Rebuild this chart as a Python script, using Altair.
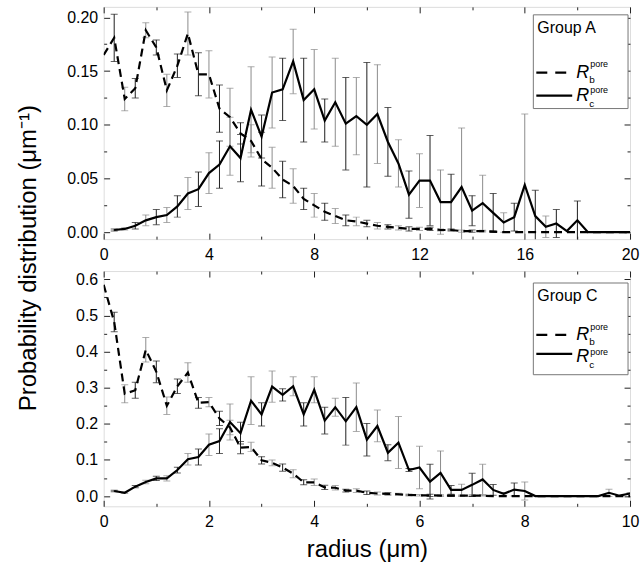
import altair as alt
import pandas as pd

FONT = "Liberation Sans"

# ---------------- Group A (top panel), bin width 0.4 um ----------------
A_r = [round(0.4 * i, 1) for i in range(51)]
A_rb = [0.165, 0.181, 0.124, 0.134, 0.188, 0.172, 0.132, 0.155, 0.185, 0.147,
        0.147, 0.115, 0.107, 0.092, 0.085, 0.068, 0.060, 0.049, 0.043, 0.031,
        0.025, 0.019, 0.015, 0.011, 0.010, 0.008, 0.006, 0.005, 0.004, 0.003,
        0.003, 0.003, 0.002, 0.002, 0.001, 0.001, 0.001, 0.0005,
        0, 0, 0, 0, 0, 0, 0, 0, 0, 0, 0, 0, 0]
A_rb_err = [0, 0.022, 0.011, 0.009, 0.007, 0.007, 0.015, 0.011, 0.020, 0.020,
            0.022, 0.022, 0.027, 0.010, 0.015, 0.025, 0.019, 0.017, 0.016, 0.010,
            0.011, 0.008, 0.007, 0.005, 0.004, 0.003, 0.003, 0.002, 0.002, 0.002,
            0.0015, 0.0015, 0.001, 0.001, 0.001, 0.001, 0.0008, 0.0005,
            0, 0, 0, 0, 0, 0, 0, 0, 0, 0, 0, 0, 0]
A_rc = [None, 0.002, 0.003, 0.006, 0.011, 0.014, 0.016, 0.024, 0.036, 0.040,
        0.055, 0.063, 0.080, 0.069, 0.114, 0.089, 0.130, 0.133, 0.159, 0.123,
        0.133, 0.104, 0.121, 0.101, 0.108, 0.100, 0.110, 0.084, 0.064, 0.035,
        0.048, 0.048, 0.028, 0.028, 0.042, 0.020, 0.027, 0.018, 0.009, 0.014,
        0.044, 0.015, 0.005, 0.008, 0.001, 0.011, 0, 0, 0, 0, 0]
A_rc_err = [None, 0.001, 0.001, 0.003, 0.005, 0.007, 0.007, 0.010, 0.015, 0.016,
            0.019, 0.022, 0.027, 0.022, 0.040, 0.020, 0.033, 0.029, 0.030, 0.039,
            0.037, 0.020, 0.041, 0.043, 0.036, 0.058, 0.046, 0.032, 0.022, 0.022,
            0.025, 0.042, 0.030, 0.026, 0.055, 0.014, 0.026, 0.018, 0.009, 0.013,
            0.066, 0.024, 0.010, 0.013, 0, 0.018, 0, 0, 0, 0, 0]

# ---------------- Group C (bottom panel), bin width 0.2 um ----------------
C_r = [round(0.2 * i, 1) for i in range(51)]
C_rb = [0.585, 0.482, 0.283, 0.293, 0.405, 0.344, 0.250, 0.304, 0.342, 0.258,
        0.260, 0.215, 0.190, 0.134, 0.136, 0.099, 0.092, 0.079, 0.062, 0.038,
        0.038, 0.024, 0.023, 0.015, 0.015, 0.009, 0.007, 0.006, 0.005, 0.003,
        0.002, 0.002, 0.001, 0.001, 0.001, 0.001, 0.001,
        0, 0, 0, 0, 0, 0, 0, 0, 0, 0, 0, 0, 0, 0]
C_rb_err = [0, 0.027, 0.025, 0.022, 0.034, 0.030, 0.024, 0.020, 0.027, 0.015,
            0.013, 0.020, 0.020, 0.017, 0.013, 0.010, 0.008, 0.010, 0.011, 0.007,
            0.009, 0.006, 0.006, 0.004, 0.005, 0.005, 0.004, 0.003, 0.003, 0.002,
            0.002, 0.003, 0.002, 0.002, 0.002, 0.002, 0.001,
            0, 0, 0, 0, 0, 0, 0, 0, 0, 0, 0, 0, 0, 0]
C_rc = [None, 0.014, 0.009, 0.026, 0.039, 0.049, 0.049, 0.072, 0.102, 0.108,
        0.142, 0.152, 0.205, 0.174, 0.264, 0.226, 0.303, 0.280, 0.304, 0.226,
        0.294, 0.209, 0.246, 0.207, 0.246, 0.156, 0.194, 0.120, 0.148, 0.072,
        0.079, 0.040, 0.064, 0.017, 0.017, 0.031, 0.046, 0.017, 0.006, 0.018,
        0.014, 0, 0, 0, 0, 0, 0, 0, 0.009, 0.001, 0.007]
C_rc_err = [None, 0.002, 0.002, 0.003, 0.005, 0.006, 0.007, 0.008, 0.016, 0.022,
            0.030, 0.034, 0.050, 0.030, 0.066, 0.032, 0.043, 0.017, 0.026, 0.032,
            0.036, 0.037, 0.025, 0.066, 0.067, 0.045, 0.044, 0.022, 0.072, 0.004,
            0.059, 0.048, 0.061, 0.012, 0.016, 0.032, 0.042, 0.015, 0.004, 0.018,
            0.025, 0, 0, 0, 0, 0, 0, 0, 0.010, 0, 0.003]


def line_df(r, v):
    return pd.DataFrame([{"r": a, "p": b} for a, b in zip(r, v) if b is not None])


def err_df(r, series):
    rows = []
    for v, e in series:
        for i, (a, b, c) in enumerate(zip(r, v, e)):
            if b is not None and c:
                rows.append({"r": a, "lo": b - c, "hi": b + c, "shade": i % 2})
    return pd.DataFrame(rows)


def tick_axis(orient, offset, values, size):
    return alt.Axis(orient=orient, offset=offset, values=values, labels=False,
                    domain=False, grid=False, ticks=True, tickSize=size,
                    tickColor="#222", tickWidth=1, title=None)


def txt(one, text, x, y, size, italic=False):
    kw = dict(text=text, fontSize=size, align="left", baseline="middle", font=FONT,
              color="black")
    if italic:
        kw["fontStyle"] = "italic"
    return alt.Chart(one).mark_text(**kw).encode(x=alt.value(x), y=alt.value(y))


def panel(r, rb, rb_e, rc, rc_e, W, H, xdom, ydom, xmaj, xmin, ymaj, ymin,
          yfmt, leg, xtitle=None, ytitle=False):
    xs = alt.Scale(domain=xdom, nice=False, zero=False)
    ys = alt.Scale(domain=ydom, nice=False, zero=False)
    xmain = dict(orient="bottom", values=xmaj, format="d", ticks=False, tickSize=0,
                 domain=False, grid=False, labelFont=FONT, labelFontSize=16,
                 labelColor="black", labelPadding=7, labelFlush=False,
                 labelOverlap=False)
    if xtitle:
        xmain.update(title=xtitle, titleFont=FONT, titleFontSize=24,
                     titleFontWeight="normal", titleColor="black", titlePadding=8)
    else:
        xmain.update(title=None)
    ymain = dict(orient="left", values=ymaj, format=yfmt, ticks=False, tickSize=0,
                 domain=False, grid=False, labelFont=FONT, labelFontSize=16,
                 labelColor="black", labelPadding=6, labelOverlap=False, title=None)

    d_b = line_df(r, rb)
    d_c = line_df(r, rc)
    d_e = err_df(r, [(rb, rb_e), (rc, rc_e)])
    shade = alt.Color("shade:N", scale=alt.Scale(domain=[0, 1], range=["#8c8c8c", "#1e1e1e"]),
                      legend=None)

    line_b = alt.Chart(d_b).mark_line(color="black", strokeWidth=2.2, strokeDash=[8, 5],
                                      clip=True).encode(
        x=alt.X("r:Q", scale=xs, axis=alt.Axis(**xmain)),
        y=alt.Y("p:Q", scale=ys, axis=alt.Axis(**ymain)))
    line_c = alt.Chart(d_c).mark_line(color="black", strokeWidth=2.2, clip=True).encode(
        x=alt.X("r:Q", scale=xs, axis=tick_axis("top", -H, xmaj, 6)),
        y=alt.Y("p:Q", scale=ys, axis=tick_axis("right", -W, ymaj, 6)))
    rules = alt.Chart(d_e).mark_rule(strokeWidth=1, clip=True).encode(
        x=alt.X("r:Q", scale=xs, axis=tick_axis("bottom", -H, xmaj, 6)),
        y=alt.Y("lo:Q", scale=ys, axis=tick_axis("left", -W, ymaj, 6)),
        y2="hi:Q", color=shade)
    caps_hi = alt.Chart(d_e).mark_tick(orient="horizontal", size=7, thickness=1,
                                       clip=True).encode(
        x=alt.X("r:Q", scale=xs, axis=tick_axis("top", -H, xmin, 3)),
        y=alt.Y("hi:Q", scale=ys, axis=tick_axis("right", -W, ymin, 3)),
        color=shade)
    caps_lo = alt.Chart(d_e).mark_tick(orient="horizontal", size=7, thickness=1,
                                       clip=True).encode(
        x=alt.X("r:Q", scale=xs, axis=tick_axis("bottom", -H, xmin, 3)),
        y=alt.Y("lo:Q", scale=ys, axis=tick_axis("left", -W, ymin, 3)),
        color=shade)

    one = pd.DataFrame({"k": [0]})
    x0 = leg["x0"]
    box = alt.Chart(one).mark_rect(fill="white", stroke="#777", strokeWidth=1).encode(
        x=alt.value(x0), x2=alt.value(leg["x1"]),
        y=alt.value(leg["y0"]), y2=alt.value(leg["y1"]))
    layers_leg = [box, txt(one, leg["name"], x0 + 4, leg["gy"], 16)]
    for dash, ly, ry, sy, py, sub in leg["rows"]:
        kw = dict(color="black", strokeWidth=2.2)
        if dash:
            kw["strokeDash"] = [11, 8]
        layers_leg.append(alt.Chart(one).mark_rule(**kw).encode(
            x=alt.value(x0 + 3), x2=alt.value(x0 + 39), y=alt.value(ly)))
        layers_leg.append(txt(one, "R", x0 + 43, ry, 18, italic=True))
        layers_leg.append(txt(one, sub, x0 + 56, sy, 10))
        layers_leg.append(txt(one, "pore", x0 + 57, py, 9))

    layers = [rules, caps_hi, caps_lo, line_b, line_c] + layers_leg
    if ytitle:
        layers.append(alt.Chart(one).mark_text(text="Probability distribution (μm⁻¹)",
                                               angle=270, fontSize=24, font=FONT,
                                               align="center", baseline="middle",
                                               color="black").encode(
            x=alt.value(-75), y=alt.value(252)))
    return alt.layer(*layers).resolve_axis(x="independent", y="independent").properties(
        width=W, height=H)


legA = dict(name="Group A", x0=431, x1=526, y0=8, y1=102, gy=21,
            rows=[(True, 66, 66, 73, 57, "b"), (False, 89, 89, 97, 83, "c")])
legC = dict(name="Group C", x0=431, x1=526, y0=12, y1=104, gy=25,
            rows=[(True, 64, 64, 71, 56, "b"), (False, 83, 86, 94, 81, "c")])

top = panel(A_r, A_rb, A_rb_err, A_rc, A_rc_err, 528, 233, [0, 20], [-0.0065, 0.2098],
            [0, 4, 8, 12, 16, 20], [2, 6, 10, 14, 18],
            [0, 0.05, 0.10, 0.15, 0.20], [0.025, 0.075, 0.125, 0.175], ".2f", legA,
            ytitle=True)
bottom = panel(C_r, C_rb, C_rb_err, C_rc, C_rc_err, 528, 236, [0, 10], [-0.0284, 0.623],
               [0, 2, 4, 6, 8, 10], [1, 3, 5, 7, 9],
               [0, 0.1, 0.2, 0.3, 0.4, 0.5, 0.6],
               [0.05, 0.15, 0.25, 0.35, 0.45, 0.55], ".1f", legC,
               xtitle="radius (μm)")

chart = alt.vconcat(top, bottom, spacing=32, bounds="flush").properties(
    padding={"left": 16, "top": 5, "right": 0, "bottom": 5}
).configure_view(stroke="#222", strokeWidth=1.2).configure(font=FONT)

chart.save("out.html", embed_options={"renderer": "svg", "actions": False})
